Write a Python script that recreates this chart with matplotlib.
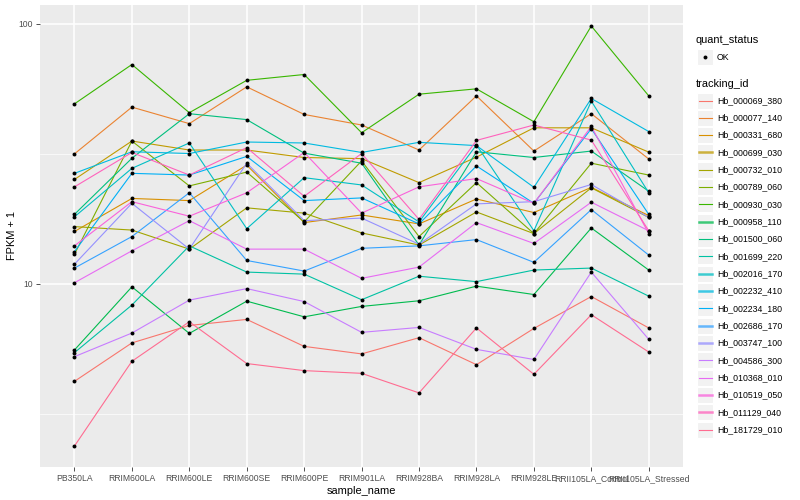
import matplotlib
matplotlib.use("Agg")
import matplotlib.pyplot as plt
from matplotlib.patches import Rectangle
from matplotlib.ticker import FixedLocator, NullFormatter
import numpy as np

plt.rcParams['font.family'] = ['Liberation Sans', 'DejaVu Sans']

# samples on the x axis
samples = ["PB350LA", "RRIM600LA", "RRIM600LE", "RRIM600SE", "RRIM600PE", "RRIM901LA",
           "RRIM928BA", "RRIM928LA", "RRIM928LE", "RRII105LA_Control", "RRII105LA_Stressed"]

tracking_ids = ["Hb_000069_380", "Hb_000077_140", "Hb_000331_680", "Hb_000699_030",
                "Hb_000732_010", "Hb_000789_060", "Hb_000930_030", "Hb_000958_110",
                "Hb_001500_060", "Hb_001699_220", "Hb_002016_170", "Hb_002232_410",
                "Hb_002234_180", "Hb_002686_170", "Hb_003747_100", "Hb_004586_300",
                "Hb_010368_010", "Hb_010519_050", "Hb_011129_040", "Hb_181729_010"]

# ggplot default hue palette for 20 levels
colors = ["#F8766D", "#EA8331", "#D89000", "#C09B00", "#A3A500", "#7CAE00", "#39B600",
          "#00BB4E", "#00BF7D", "#00C1A3", "#00BFC4", "#00BAE0", "#00B0F6", "#35A2FF",
          "#9590FF", "#C77CFF", "#E76BF3", "#FA62DB", "#FF62BC", "#FF6C91"]

# ids whose legend key looks doubled (thicker)
thick_ids = ["Hb_000699_030", "Hb_000958_110", "Hb_002016_170", "Hb_002232_410",
             "Hb_002686_170", "Hb_003747_100", "Hb_010519_050", "Hb_011129_040"]

# FPKM + 1 per tracking id, one value per sample
hb_000069_380 = [4.22, 5.93, 6.92, 7.30, 5.75, 5.38, 6.21, 4.89, 6.74, 8.94, 6.77]
hb_000077_140 = [31.6, 47.8, 41.3, 57.2, 44.8, 40.8, 32.7, 52.8, 32.4, 45.1, 30.2]
hb_000331_680 = [15.9, 21.3, 20.9, 28.6, 17.2, 18.4, 17.0, 21.2, 18.8, 23.5, 18.3]
hb_000699_030 = [25.2, 35.4, 32.7, 32.7, 30.6, 30.3, 24.5, 30.7, 39.8, 39.8, 32.1]
hb_000732_010 = [16.6, 16.1, 13.6, 19.6, 18.7, 15.7, 14.1, 18.9, 15.6, 23.4, 18.0]
hb_000789_060 = [13.0, 35.4, 23.8, 26.9, 17.3, 29.7, 15.2, 24.5, 15.6, 29.1, 26.2]
hb_000930_030 = [49.2, 69.7, 45.5, 60.6, 63.8, 38.1, 53.6, 56.2, 42.0, 98.0, 52.8]
hb_000958_110 = [5.57, 9.74, 6.45, 8.58, 7.47, 8.19, 8.61, 9.80, 9.10, 16.4, 11.3]
hb_001500_060 = [18.5, 30.4, 45.1, 42.8, 31.8, 29.1, 14.1, 32.2, 30.6, 32.4, 22.7]
hb_001699_220 = [5.44, 8.29, 14.0, 11.1, 10.9, 8.69, 10.7, 10.2, 11.3, 11.5, 8.97]
hb_002016_170 = [18.1, 27.8, 34.8, 16.3, 25.6, 24.0, 17.3, 34.2, 16.0, 50.4, 22.4]
hb_002232_410 = [26.6, 32.2, 31.7, 35.1, 34.8, 32.0, 35.0, 34.0, 23.5, 51.6, 38.5]
hb_002234_180 = [13.3, 26.6, 26.2, 30.9, 20.9, 21.4, 17.0, 28.4, 20.4, 39.5, 18.5]
hb_002686_170 = [11.5, 15.2, 22.4, 12.3, 11.2, 13.7, 14.0, 14.8, 12.1, 19.3, 12.9]
hb_003747_100 = [11.9, 20.4, 13.6, 29.1, 17.5, 17.9, 14.2, 20.3, 20.7, 24.1, 18.0]
hb_004586_300 = [5.25, 6.47, 8.66, 9.59, 8.55, 6.51, 6.80, 5.60, 5.12, 11.1, 6.12]
hb_010368_010 = [10.1, 13.4, 17.5, 13.6, 13.6, 10.5, 11.6, 17.2, 14.3, 20.6, 16.0]
hb_010519_050 = [14.0, 20.7, 18.2, 22.4, 32.0, 18.7, 23.6, 25.4, 20.4, 40.3, 15.6]
hb_011129_040 = [23.6, 32.0, 26.2, 33.4, 21.7, 31.7, 17.7, 35.6, 40.8, 35.7, 16.0]
hb_181729_010 = [2.38, 5.04, 7.15, 4.94, 4.64, 4.53, 3.81, 6.77, 4.49, 7.61, 5.47]

series = [hb_000069_380, hb_000077_140, hb_000331_680, hb_000699_030, hb_000732_010,
          hb_000789_060, hb_000930_030, hb_000958_110, hb_001500_060, hb_001699_220,
          hb_002016_170, hb_002232_410, hb_002234_180, hb_002686_170, hb_003747_100,
          hb_004586_300, hb_010368_010, hb_010519_050, hb_011129_040, hb_181729_010]

fig = plt.figure(figsize=(8, 5), dpi=100)
ax = fig.add_axes([0.05, 0.066, 0.804, 0.924])
ax.set_facecolor("#EBEBEB")

x = np.arange(len(samples))
for vals, col in zip(series, colors):
    ax.plot(x, vals, color=col, lw=0.8, zorder=2)
for vals in series:
    ax.scatter(x, vals, s=8, color="black", zorder=3, linewidths=0)

ax.set_yscale("log")
ax.set_ylim(10 ** 0.296, 10 ** 2.072)
ax.set_xlim(-0.6, len(samples) - 0.4)

ax.yaxis.set_major_locator(FixedLocator([10, 100]))
ax.set_yticklabels(["10", "100"])
ax.yaxis.set_minor_locator(FixedLocator([10 ** 0.5, 10 ** 1.5]))
ax.yaxis.set_minor_formatter(NullFormatter())
ax.set_xticks(x)
ax.set_xticklabels(samples)

ax.grid(which="major", color="white", lw=1.1, zorder=0)
ax.grid(which="minor", axis="y", color="white", lw=0.5, zorder=0)
ax.set_axisbelow(True)
for s in ax.spines.values():
    s.set_visible(False)
ax.tick_params(which="major", length=3, width=0.6, color="#333333",
               labelsize=6.2, labelcolor="#4D4D4D", pad=2)
ax.tick_params(which="minor", length=0)

ax.set_xlabel("sample_name", fontsize=7.9, labelpad=2)
ax.set_ylabel("FPKM + 1", fontsize=7.9, labelpad=1)

# legend drawn by hand in pixel coordinates, ggplot style
lax = fig.add_axes([0, 0, 1, 1])
lax.set_xlim(0, 800)
lax.set_ylim(500, 0)
lax.axis("off")

lax.text(696, 40, "quant_status", fontsize=7.9, va="center", ha="left")
lax.add_patch(Rectangle((697, 49), 16, 16, facecolor="#F2F2F2", edgecolor="white", lw=0.8))
lax.scatter([705], [57], s=8, color="black", linewidths=0)
lax.text(717, 57, "OK", fontsize=6.3, va="center", ha="left")

lax.text(696, 84, "tracking_id", fontsize=7.9, va="center", ha="left")
for i, (tid, col) in enumerate(zip(tracking_ids, colors)):
    cy = 100.5 + 17.33 * i
    lax.add_patch(Rectangle((697, cy - 8), 16, 16, facecolor="#F2F2F2",
                            edgecolor="white", lw=0.8))
    if tid in thick_ids:
        lax.plot([698.5, 711.5], [cy, cy], color=col, lw=1.8, alpha=0.75)
    else:
        lax.plot([698.5, 711.5], [cy, cy], color=col, lw=0.8)
    lax.text(717, cy, tid, fontsize=6.3, va="center", ha="left")

fig.savefig("out.png", dpi=100)
